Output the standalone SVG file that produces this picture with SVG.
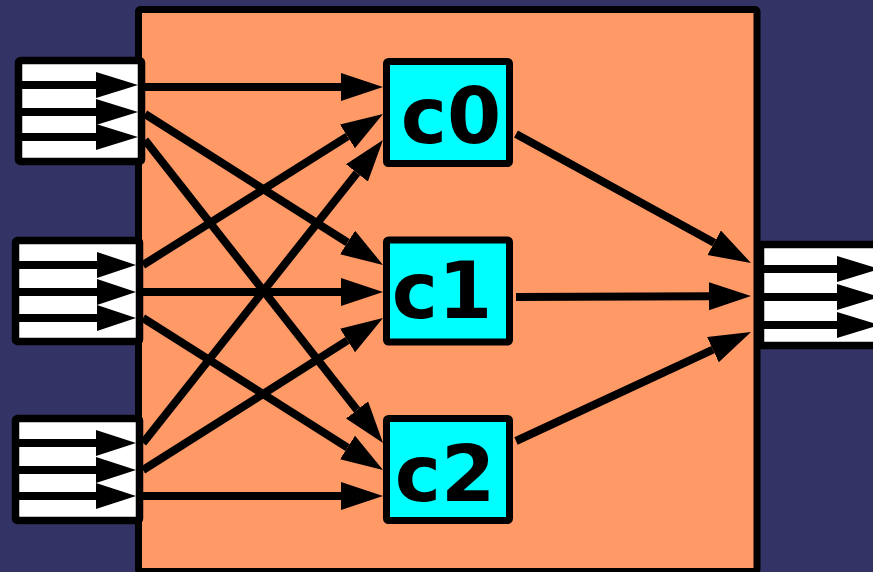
<svg xmlns="http://www.w3.org/2000/svg" width="873" height="572" viewBox="0 0 873 572">
  <defs>
    <!-- connector arrowhead: path ends at the base, head extends 42px beyond -->
    <marker id="head" markerUnits="userSpaceOnUse" markerWidth="44" markerHeight="30" refX="0" refY="14" orient="auto">
      <path d="M0,0 L42,14 L0,28 Z" fill="#000"/>
    </marker>
    <style>
      .frame { fill: #ff9966; stroke: #000; stroke-width: 7; }
      .port { fill: #fff; stroke: #000; stroke-width: 7.5; }
      .wire { stroke: #000; stroke-width: 8; fill: none; }
      .tri { fill: #000; }
      .core { fill: #00ffff; stroke: #000; stroke-width: 7; }
      .label { font-family: "DejaVu Sans", "Liberation Sans", sans-serif; font-weight: bold; font-size: 78px; fill: #000; text-anchor: middle; }
      .conn { stroke: #000; stroke-width: 8; fill: none; marker-end: url(#head); }
    </style>
  </defs>

  <rect width="873" height="572" fill="#333366"/>

  <!-- enclosing block -->
  <rect class="frame" x="138.5" y="9.5" width="618.5" height="562" rx="2"/>

  <!-- input bundle 0 -->
  <g id="in0">
    <rect class="port" x="18.5" y="60.5" width="123" height="101" rx="2"/>
    <line class="wire" x1="15" y1="85" x2="97" y2="85"/>
    <line class="wire" x1="15" y1="112" x2="97" y2="112"/>
    <line class="wire" x1="15" y1="137" x2="97" y2="137"/>
    <polygon class="tri" points="96,72 138,85 96,98"/>
    <polygon class="tri" points="96,99 138,112 96,125"/>
    <polygon class="tri" points="96,124 138,137 96,150"/>
  </g>

  <!-- input bundle 1 -->
  <g id="in1">
    <rect class="port" x="15.5" y="240.5" width="124" height="101" rx="2"/>
    <line class="wire" x1="12" y1="265" x2="98" y2="265"/>
    <line class="wire" x1="12" y1="292" x2="98" y2="292"/>
    <line class="wire" x1="12" y1="318" x2="98" y2="318"/>
    <polygon class="tri" points="97,252 136,265 97,278"/>
    <polygon class="tri" points="97,279 136,292 97,305"/>
    <polygon class="tri" points="97,305 136,318 97,331"/>
  </g>

  <!-- input bundle 2 -->
  <g id="in2">
    <rect class="port" x="15.5" y="418.5" width="124" height="102" rx="2"/>
    <line class="wire" x1="12" y1="443" x2="97" y2="443"/>
    <line class="wire" x1="12" y1="470" x2="97" y2="470"/>
    <line class="wire" x1="12" y1="496" x2="97" y2="496"/>
    <polygon class="tri" points="96,430 136,443 96,456"/>
    <polygon class="tri" points="96,457 136,470 96,483"/>
    <polygon class="tri" points="96,483 136,496 96,509"/>
  </g>

  <!-- output bundle -->
  <g id="out">
    <rect class="port" x="760.5" y="244.5" width="140" height="101"/>
    <line class="wire" x1="757" y1="269" x2="839" y2="269"/>
    <line class="wire" x1="757" y1="297" x2="839" y2="297"/>
    <line class="wire" x1="757" y1="325" x2="839" y2="325"/>
    <polygon class="tri" points="837,256 880,269 837,282"/>
    <polygon class="tri" points="837,284 880,297 837,310"/>
    <polygon class="tri" points="837,312 880,325 837,338"/>
  </g>

  <!-- cores -->
  <g id="c0">
    <rect class="core" x="386.5" y="61.5" width="123" height="102" rx="2"/>
    <text class="label" x="451" y="143">c0</text>
  </g>
  <g id="c1">
    <rect class="core" x="386.5" y="240" width="123" height="102" rx="2"/>
    <text class="label" x="442" y="318">c1</text>
  </g>
  <g id="c2">
    <rect class="core" x="386.5" y="418.5" width="123" height="102" rx="2"/>
    <text class="label" x="445" y="501">c2</text>
  </g>

  <!-- crossbar connectors: bundle i, lane j -> core j, lane i -->
  <g id="connectors">
    <path class="conn" d="M145,87 L341,87"/>
    <path class="conn" d="M145,114 L347.54,242.5"/>
    <path class="conn" d="M145,140 L357.06,409.97"/>
    <path class="conn" d="M143,265 L347.45,136.37"/>
    <path class="conn" d="M143,292 L341,292"/>
    <path class="conn" d="M143,318 L347.52,447.53"/>
    <path class="conn" d="M143,443 L356.92,172.92"/>
    <path class="conn" d="M143,470 L347.52,340.47"/>
    <path class="conn" d="M143,496 L341,496"/>
    <path class="conn" d="M516,134 L714.18,242.79"/>
    <path class="conn" d="M516,297 L709,296.2"/>
    <path class="conn" d="M516,441 L712.9,349.67"/>
  </g>
</svg>
